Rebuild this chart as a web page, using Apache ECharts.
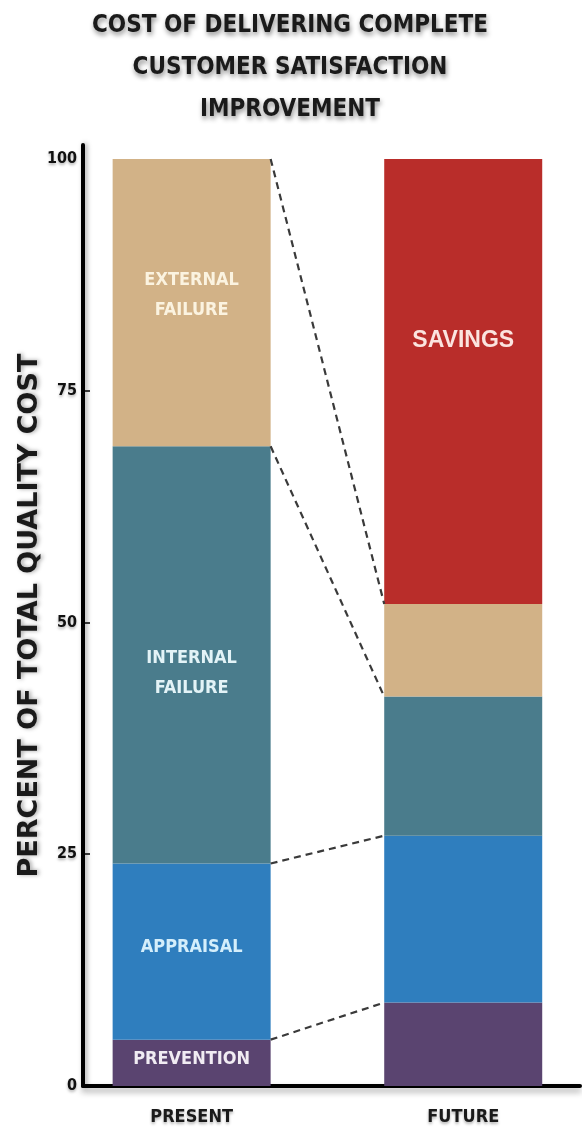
<!DOCTYPE html>
<html><head><meta charset="utf-8">
<script src="https://cdn.jsdelivr.net/npm/echarts@6/dist/echarts.min.js"></script>
<style>html,body{margin:0;padding:0;background:#fff}#c{width:582px;height:1138px}</style>
</head><body><div id="c"></div>
<script>
// ---- data ----
const titleText = 'COST OF DELIVERING COMPLETE\nCUSTOMER SATISFACTION\nIMPROVEMENT';
const yAxisName = 'PERCENT OF TOTAL QUALITY COST';
const periods = ['PRESENT', 'FUTURE'];
const yTickLabels = [0, 25, 50, 75, 100];
const segments = ['PREVENTION', 'APPRAISAL', 'INTERNAL FAILURE', 'EXTERNAL FAILURE', 'SAVINGS'];
const prevention = [5, 9];
const appraisal = [19, 18];
const internalFailure = [45, 15];
const externalFailure = [31, 10];
const savings = [0, 48];

// ---- styling ----
const seriesValues = [prevention, appraisal, internalFailure, externalFailure, savings];
const colors = ['#5A4470', '#2F7EBE', '#4A7C8C', '#D2B287', '#B92D2A'];
const labelColors = ['#F1ECF3', '#D4EEFB', '#E3F3F7', '#FBF3E0', '#FBE4DF'];
const labelOnPeriod = [0, 0, 0, 0, 1];
const labelOffsets = [[0, -3], [0, -4], [0, 18], [0, -7], [0, -41]];
const labelSizes = [18, 18, 18, 18, 23];
const labelFonts = ['DejaVu Sans Condensed', 'DejaVu Sans Condensed', 'DejaVu Sans Condensed', 'DejaVu Sans Condensed', 'Liberation Sans'];
const BAR_W = 158;

const cumPresent = [], cumFuture = [];
let sp = 0, sf = 0;
for (let k = 0; k < 4; k++) {
  sp += seriesValues[k][0]; sf += seriesValues[k][1];
  cumPresent.push(sp); cumFuture.push(sf);
}
const connectors = cumPresent.map((v, k) => [1, v, cumFuture[k]]);

// value first (dim 0 -> y, stacked), period position second (dim 1 -> x)
const barSeries = seriesValues.map((vals, s) => ({
  name: segments[s],
  type: 'bar',
  stack: 'total',
  barWidth: BAR_W,
  encode: { x: 1, y: 0 },
  itemStyle: { color: colors[s] },
  data: vals.map((v, i) => ({
    value: [v, i + 1],
    label: {
      show: i === labelOnPeriod[s],
      position: 'inside',
      formatter: segments[s].replace(' ', '\n'),
      offset: labelOffsets[s],
      color: labelColors[s],
      fontFamily: labelFonts[s],
      fontWeight: 'bold',
      fontSize: labelSizes[s],
      lineHeight: 30
    }
  }))
}));

const chart = echarts.init(document.getElementById('c'), null, { renderer: 'canvas' });
chart.setOption({
  backgroundColor: '#ffffff',
  animation: false,
  title: {
    text: titleText,
    left: 285,
    textAlign: 'center',
    top: 0,
    textStyle: {
      fontFamily: 'DejaVu Sans Condensed',
      fontWeight: 'bold',
      fontSize: 24,
      lineHeight: 42,
      color: '#1a1a1a',
      textShadowColor: 'rgba(0,0,0,0.45)',
      textShadowBlur: 5,
      textShadowOffsetX: 1,
      textShadowOffsetY: 3
    }
  },
  grid: { left: 83, right: 2, top: 145, bottom: 52 },
  xAxis: {
    type: 'value',
    min: 0.6,
    max: 2.43,
    axisLine: { show: true, onZero: false, lineStyle: { color: '#000', width: 4, shadowColor: 'rgba(0,0,0,0.35)', shadowBlur: 6, shadowOffsetY: 4 } },
    axisTick: { show: false },
    splitLine: { show: false },
    axisLabel: {
      customValues: [1, 2],
      formatter: v => periods[Math.round(v) - 1] || '',
      margin: 22,
      fontFamily: 'DejaVu Sans Condensed',
      fontWeight: 'bold',
      fontSize: 18,
      color: '#1a1a1a',
      textShadowColor: 'rgba(0,0,0,0.3)',
      textShadowBlur: 3,
      textShadowOffsetY: 2
    }
  },
  yAxis: {
    type: 'value',
    min: 0,
    max: 101.5,
    name: yAxisName,
    nameLocation: 'middle',
    nameGap: 40,
    nameMoveOverlap: false,
    nameRotate: 90,
    nameTextStyle: {
      fontFamily: 'DejaVu Sans',
      fontWeight: 'bold',
      fontSize: 27,
      color: '#1a1a1a',
      textShadowColor: 'rgba(0,0,0,0.35)',
      textShadowBlur: 4,
      textShadowOffsetX: 2
    },
    axisLine: { show: true, lineStyle: { color: '#000', width: 4, shadowColor: 'rgba(0,0,0,0.35)', shadowBlur: 5, shadowOffsetX: 2 } },
    axisTick: { show: true, inside: true, length: 7, customValues: [25, 50, 75], lineStyle: { color: '#000', width: 1.5 } },
    splitLine: { show: false },
    axisLabel: {
      customValues: yTickLabels,
      formatter: v => (yTickLabels.indexOf(v) >= 0 ? String(v) : ''),
      margin: 6,
      fontFamily: 'DejaVu Sans Condensed',
      fontWeight: 'bold',
      fontSize: 16,
      color: '#111',
      textShadowColor: 'rgba(0,0,0,0.3)',
      textShadowBlur: 3,
      textShadowOffsetY: 2
    }
  },
  series: barSeries.concat([{
    type: 'custom',
    silent: true,
    z: 5,
    encode: { x: 0, y: [1, 2] },
    data: connectors,
    renderItem: (params, api) => {
      const a = api.coord([api.value(0), api.value(1)]);
      const b = api.coord([api.value(0) + 1, api.value(2)]);
      const half = BAR_W / 2;
      return {
        type: 'line',
        shape: { x1: a[0] + half, y1: a[1], x2: b[0] - half, y2: b[1] },
        style: { stroke: '#3a3a3a', lineWidth: 2.2, lineDash: [7, 5] }
      };
    }
  }])
});
</script>
</body></html>
